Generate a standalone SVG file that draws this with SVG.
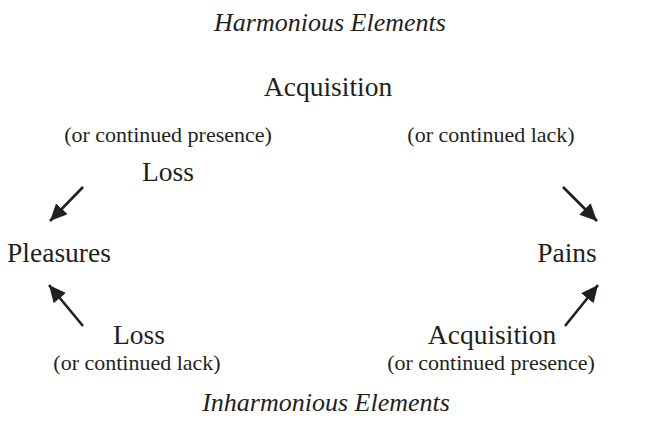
<svg xmlns="http://www.w3.org/2000/svg" width="652" height="427" viewBox="0 0 652 427">
<defs>
<marker id="ah" markerUnits="userSpaceOnUse" markerWidth="20" markerHeight="18" refX="17" refY="8" orient="auto">
<path d="M0,0 L17,8 L0,16 Z" fill="#231f20"/>
</marker>
<style>
text{font-family:"Liberation Serif","Times New Roman",serif;fill:#231f20;text-anchor:middle}
.big{font-size:27.5px}
.sub{font-size:22px}
.title{font-size:26px;font-style:italic}
.arr{stroke:#231f20;stroke-width:2.6;fill:none;marker-end:url(#ah)}
</style>
</defs>
<rect width="652" height="427" fill="#ffffff"/>
<g id="title-top"><text class="title" x="330" y="31">Harmonious Elements</text></g>
<g id="acq-top"><text class="big" x="328" y="96">Acquisition</text></g>
<g id="presence-top"><text class="sub" x="168" y="142">(or continued presence)</text></g>
<g id="lack-top"><text class="sub" x="491" y="142">(or continued lack)</text></g>
<g id="loss-top"><text class="big" x="168" y="181">Loss</text></g>
<g id="pleasures"><text class="big" x="59" y="262">Pleasures</text></g>
<g id="pains"><text class="big" x="567" y="262">Pains</text></g>
<g id="loss-bottom"><text class="big" x="139" y="344">Loss</text><text class="sub" x="137" y="370">(or continued lack)</text></g>
<g id="acq-bottom"><text class="big" x="492" y="344">Acquisition</text><text class="sub" x="491" y="370">(or continued presence)</text></g>
<g id="title-bottom"><text class="title" x="326" y="411">Inharmonious Elements</text></g>
<g id="connectors">
<line class="arr" x1="83" y1="187" x2="50" y2="221"/>
<line class="arr" x1="563" y1="187" x2="597" y2="221"/>
<line class="arr" x1="83" y1="326" x2="49" y2="285"/>
<line class="arr" x1="565" y1="326" x2="598" y2="285"/>
</g>
</svg>
